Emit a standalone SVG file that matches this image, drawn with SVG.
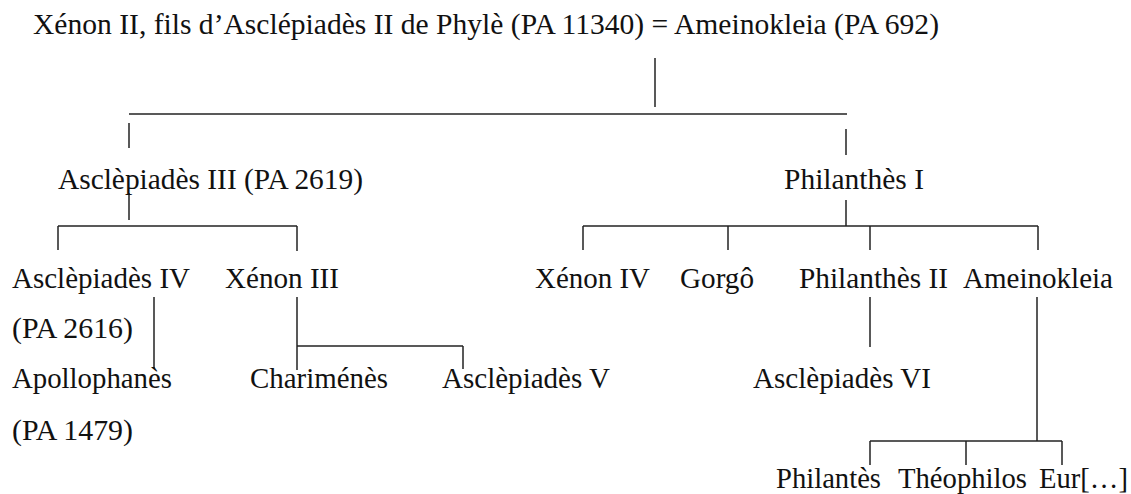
<svg xmlns="http://www.w3.org/2000/svg" width="1131" height="494" viewBox="0 0 1131 494">
<style>
text{font-family:"Liberation Serif","Tinos","Times New Roman","DejaVu Serif","Noto Serif",serif;font-size:28.5px;fill:#111}
.c line{stroke:#222;stroke-width:1.5;fill:none}
</style>
<rect width="1131" height="494" fill="#fff"/>
<g class="c" id="connectors">
<line x1="655" y1="58" x2="655" y2="107"/>
<line x1="129" y1="114" x2="847" y2="114"/>
<line x1="129" y1="123" x2="129" y2="148"/>
<line x1="846" y1="129" x2="846" y2="155"/>
<line x1="129" y1="193" x2="129" y2="220"/>
<line x1="58" y1="226" x2="297" y2="226"/>
<line x1="58" y1="226" x2="58" y2="250"/>
<line x1="297" y1="226" x2="297" y2="251"/>
<line x1="846" y1="200" x2="846" y2="226"/>
<line x1="583" y1="226" x2="1038" y2="226"/>
<line x1="583" y1="226" x2="583" y2="250"/>
<line x1="728" y1="226" x2="728" y2="250"/>
<line x1="870" y1="226" x2="870" y2="250"/>
<line x1="1038" y1="226" x2="1038" y2="250"/>
<line x1="154" y1="297" x2="154" y2="368"/>
<line x1="297" y1="297" x2="297" y2="370"/>
<line x1="297" y1="346" x2="463" y2="346"/>
<line x1="463" y1="346" x2="463" y2="369"/>
<line x1="870" y1="297" x2="870" y2="347"/>
<line x1="1037" y1="297" x2="1037" y2="441"/>
<line x1="870" y1="441" x2="1062" y2="441"/>
<line x1="870" y1="441" x2="870" y2="465"/>
<line x1="966" y1="441" x2="966" y2="465"/>
<line x1="1062" y1="441" x2="1062" y2="465"/>
</g>
<g id="n-root"><text x="33" y="34" textLength="906" lengthAdjust="spacingAndGlyphs">Xénon II, fils d’Asclépiadès II de Phylè (PA 11340) = Ameinokleia (PA 692)</text></g>
<g id="n-asc3"><text x="58" y="189" textLength="305" lengthAdjust="spacingAndGlyphs">Asclèpiadès III (PA 2619)</text></g>
<g id="n-phil1"><text x="784" y="189" textLength="140" lengthAdjust="spacingAndGlyphs">Philanthès I</text></g>
<g id="n-asc4"><text x="12" y="288" textLength="178" lengthAdjust="spacingAndGlyphs">Asclèpiadès IV</text><text x="12" y="338" textLength="121" lengthAdjust="spacingAndGlyphs">(PA 2616)</text></g>
<g id="n-xen3"><text x="225" y="288" textLength="114" lengthAdjust="spacingAndGlyphs">Xénon III</text></g>
<g id="n-apol"><text x="12" y="388" textLength="160" lengthAdjust="spacingAndGlyphs">Apollophanès</text><text x="12" y="440" textLength="121" lengthAdjust="spacingAndGlyphs">(PA 1479)</text></g>
<g id="n-char"><text x="250" y="388" textLength="138" lengthAdjust="spacingAndGlyphs">Chariménès</text></g>
<g id="n-asc5"><text x="442" y="388" textLength="168" lengthAdjust="spacingAndGlyphs">Asclèpiadès V</text></g>
<g id="n-xen4"><text x="535" y="288" textLength="115" lengthAdjust="spacingAndGlyphs">Xénon IV</text></g>
<g id="n-gorgo"><text x="680" y="288" textLength="74" lengthAdjust="spacingAndGlyphs">Gorgô</text></g>
<g id="n-phil2"><text x="799" y="288" textLength="149" lengthAdjust="spacingAndGlyphs">Philanthès II</text></g>
<g id="n-amei"><text x="963" y="288" textLength="150" lengthAdjust="spacingAndGlyphs">Ameinokleia</text></g>
<g id="n-asc6"><text x="753" y="388" textLength="178" lengthAdjust="spacingAndGlyphs">Asclèpiadès VI</text></g>
<g id="n-philan"><text x="776" y="488" textLength="105" lengthAdjust="spacingAndGlyphs">Philantès</text></g>
<g id="n-theo"><text x="898" y="488" textLength="129" lengthAdjust="spacingAndGlyphs">Théophilos</text></g>
<g id="n-eur"><text x="1039" y="488" textLength="89" lengthAdjust="spacingAndGlyphs">Eur[…]</text></g>
</svg>
